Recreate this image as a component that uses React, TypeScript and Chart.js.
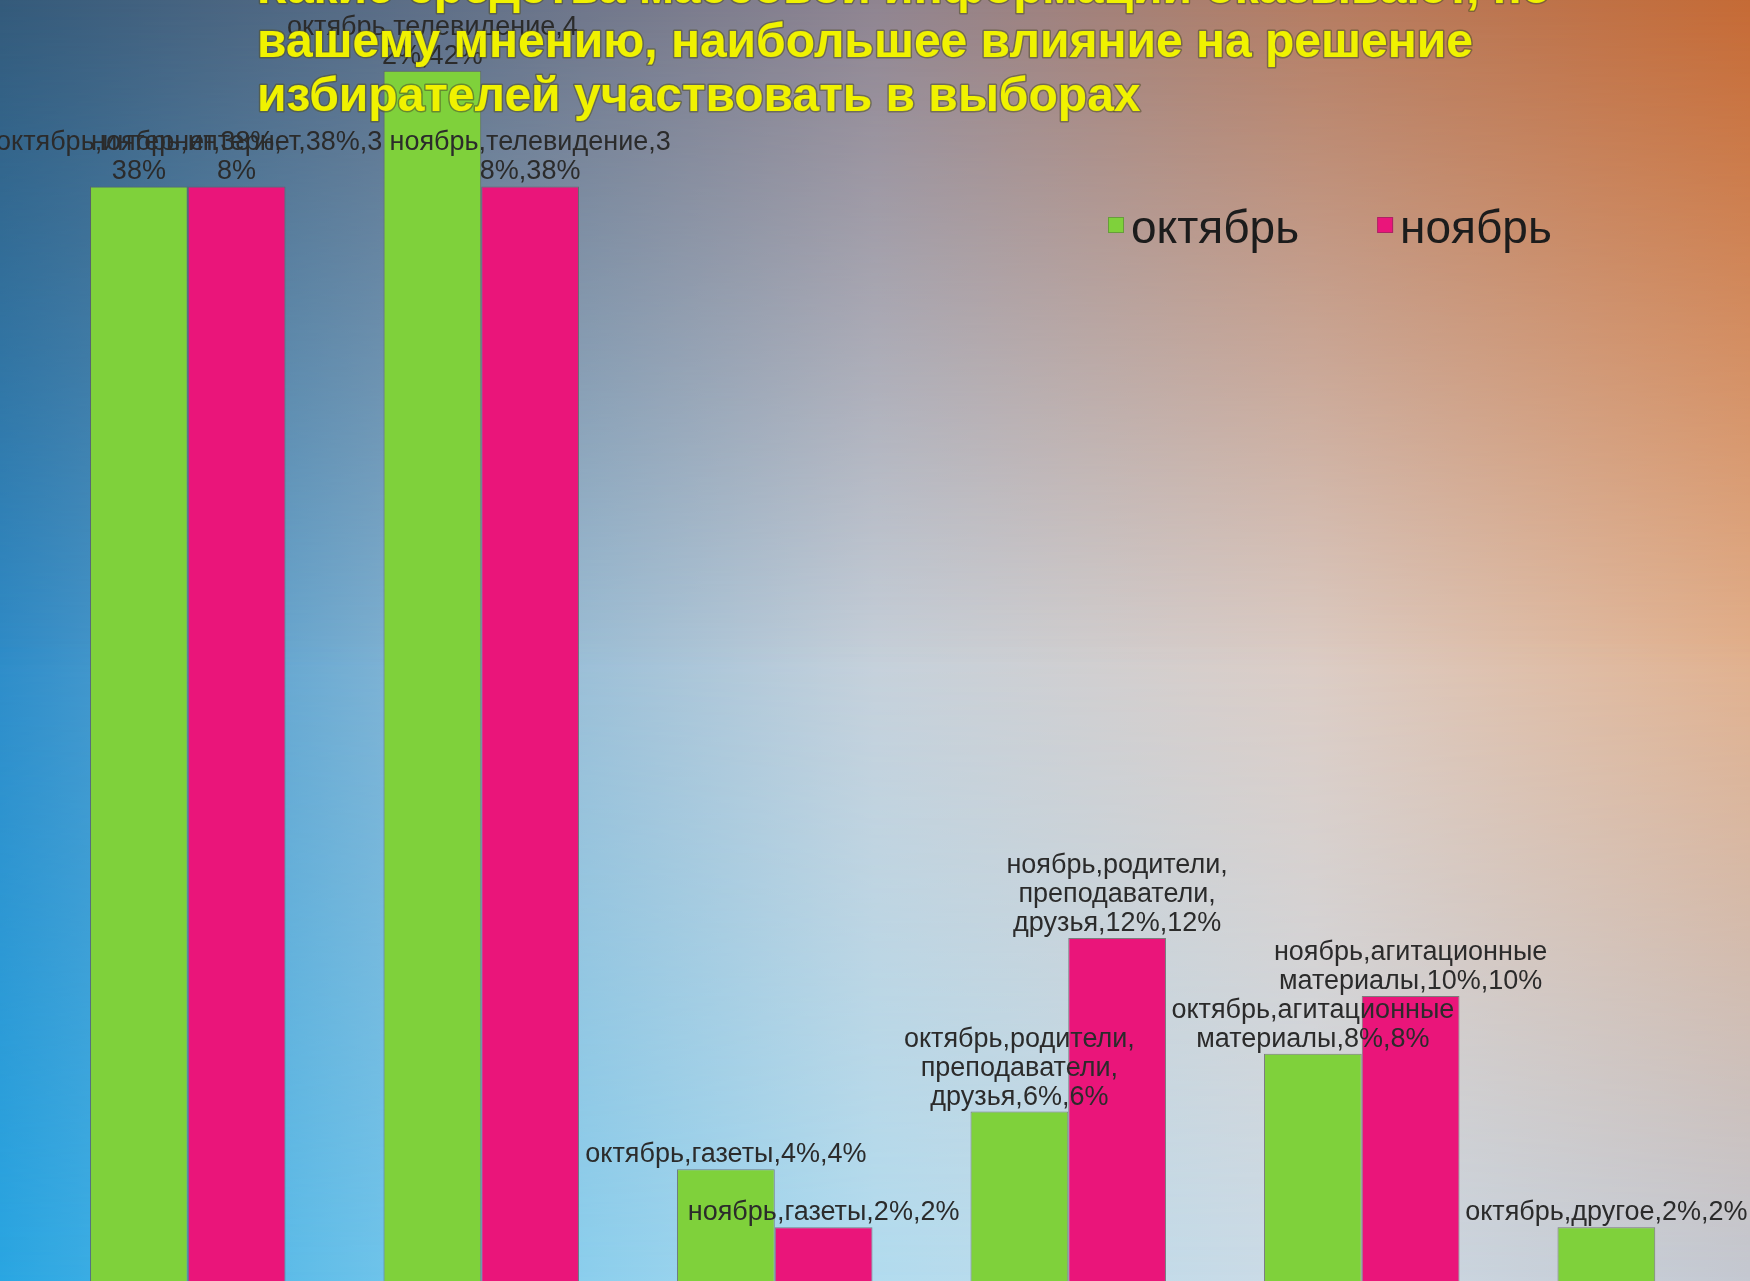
import React, { useEffect, useRef } from "react";
import { Chart, registerables } from "chart.js";

Chart.register(...registerables);

// ---- data ----
const categories = [
  "интернет",
  "телевидение",
  "газеты",
  "родители, преподаватели, друзья",
  "агитационные материалы",
  "другое",
];
const seriesNames = ["октябрь", "ноябрь"];
const octoberValues = [38, 42, 4, 6, 8, 2];
const novemberValues = [38, 38, 2, 12, 10, 0];
const octoberLabelLines = [
  ["октябрь,интернет,38%,", "38%"],
  ["октябрь,телевидение,4", "2%,42%"],
  ["октябрь,газеты,4%,4%"],
  ["октябрь,родители,", "преподаватели,", "друзья,6%,6%"],
  ["октябрь,агитационные", "материалы,8%,8%"],
  ["октябрь,другое,2%,2%"],
];
const novemberLabelLines = [
  ["ноябрь,интернет,38%,3", "8%"],
  ["ноябрь,телевидение,3", "8%,38%"],
  ["ноябрь,газеты,2%,2%"],
  ["ноябрь,родители,", "преподаватели,", "друзья,12%,12%"],
  ["ноябрь,агитационные", "материалы,10%,10%"],
  [],
];
const titleLines = [
  "Какие средства массовой информации оказывают, по",
  "вашему мнению, наибольшее влияние на решение",
  "избирателей участвовать в выборах",
];
const seriesColors = ["#7fd13b", "#ea157a"];

const labelLinesBySeries = [octoberLabelLines, novemberLabelLines];

const labelsPlugin = {
  id: "barLabels",
  afterDatasetsDraw(chart: any) {
    const ctx = chart.ctx;
    ctx.save();
    ctx.font = "27px 'Liberation Sans', Arial, sans-serif";
    ctx.fillStyle = "#2b2b2b";
    ctx.textAlign = "center";
    ctx.textBaseline = "alphabetic";
    chart.data.datasets.forEach((ds: any, di: number) => {
      const meta = chart.getDatasetMeta(di);
      meta.data.forEach((el: any, i: number) => {
        const v = ds.data[i];
        if (!v) return;
        const lines = labelLinesBySeries[di][i] || [];
        const base = el.y - 7;
        const n = lines.length;
        lines.forEach((ln: string, li: number) => {
          ctx.fillText(ln, el.x, base - (n - 1 - li) * 29);
        });
      });
    });
    ctx.restore();
  },
};

const overlayPlugin = {
  id: "overlay",
  afterDraw(chart: any) {
    const ctx = chart.ctx;
    // legend
    ctx.save();
    ctx.font = "46px 'Liberation Sans', Arial, sans-serif";
    ctx.textBaseline = "alphabetic";
    ctx.textAlign = "left";
    let x = 1108;
    chart.data.datasets.forEach((ds: any) => {
      ctx.fillStyle = ds.backgroundColor;
      ctx.fillRect(x, 217, 16, 16);
      ctx.strokeStyle = "rgba(60,60,60,0.35)";
      ctx.lineWidth = 1;
      ctx.strokeRect(x + 0.5, 217.5, 15, 15);
      ctx.fillStyle = "#1c1c1c";
      ctx.fillText(ds.label, x + 23, 243);
      x += 23 + ctx.measureText(ds.label).width + 78;
    });
    ctx.restore();

    // title
    ctx.save();
    ctx.font = "bold 48px 'Liberation Sans', Arial, sans-serif";
    ctx.textAlign = "left";
    ctx.textBaseline = "alphabetic";
    ctx.lineJoin = "round";
    titleLines.forEach((ln, i) => {
      const y = 3 + i * 54;
      ctx.strokeStyle = "rgba(80,80,40,0.55)";
      ctx.lineWidth = 3;
      ctx.strokeText(ln, 257, y);
      ctx.fillStyle = "#f0f200";
      ctx.fillText(ln, 257, y);
    });
    ctx.restore();
  },
};

const layerBase: React.CSSProperties = {
  position: "absolute",
  left: 0,
  top: 0,
  width: 1750,
  height: 1281,
};

export default function App() {
  const ref = useRef<HTMLCanvasElement | null>(null);

  useEffect(() => {
    const canvas = ref.current;
    if (!canvas) return;
    const chart = new Chart(canvas, {
      type: "bar",
      data: {
        labels: categories,
        datasets: [
          {
            label: seriesNames[0],
            data: octoberValues,
            backgroundColor: seriesColors[0],
            borderColor: "rgba(95,95,95,0.75)",
            borderWidth: 1,
            categoryPercentage: 0.666,
            barPercentage: 1,
          },
          {
            label: seriesNames[1],
            data: novemberValues,
            backgroundColor: seriesColors[1],
            borderColor: "rgba(95,95,95,0.75)",
            borderWidth: 1,
            categoryPercentage: 0.666,
            barPercentage: 1,
          },
        ],
      },
      options: {
        responsive: false,
        maintainAspectRatio: false,
        devicePixelRatio: 1,
        animation: false,
        layout: { padding: { left: 41, right: 8, top: 13, bottom: 5 } },
        scales: {
          x: { display: false, offset: true },
          y: { display: false, min: 0, max: 44 },
        },
        plugins: {
          legend: { display: false },
          title: { display: false },
          tooltip: { enabled: false },
        },
      },
      plugins: [labelsPlugin, overlayPlugin],
    });
    return () => chart.destroy();
  }, []);

  const midMask = "linear-gradient(to bottom, black 0%, black 50%, transparent 100%)";
  const topMask = "linear-gradient(to bottom, black 0%, transparent 52%)";

  return (
    <div
      style={{
        position: "fixed",
        left: 0,
        top: 0,
        width: 1750,
        height: 1281,
        overflow: "hidden",
      }}
    >
      <div
        style={{
          ...layerBase,
          background:
            "linear-gradient(to right, #2aa6e2 0%, #78c8ec 25%, #b2dcef 50%, #cddbe6 75%, #c4c8d1 100%)",
        }}
      />
      <div
        style={{
          ...layerBase,
          background:
            "linear-gradient(to right, #2f8cc8 0%, #88b6d4 25%, #c6d0da 50%, #dcccc4 75%, #e2b08c 100%)",
          WebkitMaskImage: midMask,
          maskImage: midMask,
        }}
      />
      <div
        style={{
          ...layerBase,
          background:
            "linear-gradient(to right, #345a7a 0%, #5f6f87 25%, #8f8490 50%, #b47c62 75%, #c56a35 100%)",
          WebkitMaskImage: topMask,
          maskImage: topMask,
        }}
      />
      <canvas
        ref={ref}
        width={1810}
        height={1290}
        style={{ position: "absolute", left: 0, top: 0, width: 1810, height: 1290 }}
      />
    </div>
  );
}
